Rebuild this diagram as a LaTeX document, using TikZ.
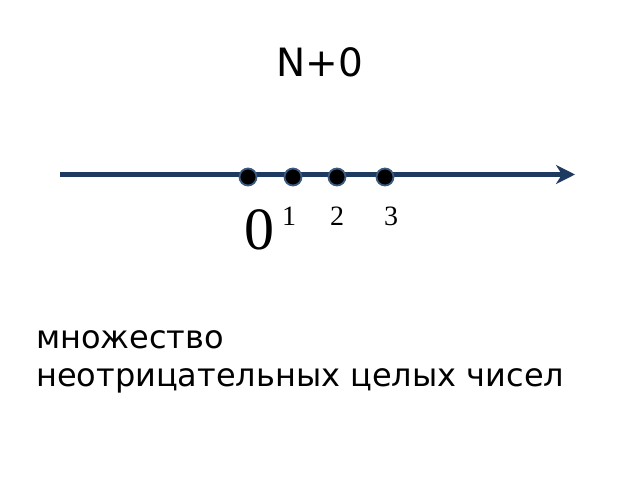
\documentclass[tikz,border=0pt]{standalone}
\usepackage{fontspec}
\setmainfont{DejaVu Sans}
\newfontfamily\numfont{Liberation Serif}
\usetikzlibrary{arrows.meta}
\definecolor{navy}{HTML}{1F3A60}
\definecolor{dotrim}{HTML}{3A5A80}
\begin{document}
\begin{tikzpicture}[x=1pt,y=1pt,
  axis/.style={draw=navy,line width=4.5pt,-{Stealth[length=19pt,width=19pt,inset=6pt]}},
  pt/.style={circle,fill=black,draw=dotrim,line width=1.8pt,minimum size=17pt,inner sep=0pt},
  lbl/.style={font=\numfont\fontsize{28}{30}\selectfont,inner sep=0pt},
  txt/.style={font=\fontsize{32}{38}\selectfont,inner sep=0pt,align=left}]
\useasboundingbox (0,0) rectangle (640,480);
\node[font=\fontsize{39}{42}\selectfont,inner sep=0pt] (title) at (320,418) {N+0};
\coordinate (s) at (60,305.5);
\coordinate (e) at (575,305.5);
\draw[axis] (s) -- (e);
\node[pt] (p0) at (248,303) {};
\node[pt] (p1) at (293,303) {};
\node[pt] (p2) at (337,303) {};
\node[pt] (p3) at (385,303) {};
\node[font=\numfont\fontsize{60}{62}\selectfont,inner sep=0pt] (l0) at (259,250) {0};
\node[lbl] (l1) at (289,264) {1};
\node[lbl] (l2) at (337,264) {2};
\node[lbl] (l3) at (391,264) {3};
\node[txt,anchor=north west] (t) at (36,150) {множество\\неотрицательных целых чисел};
\end{tikzpicture}
\end{document}
